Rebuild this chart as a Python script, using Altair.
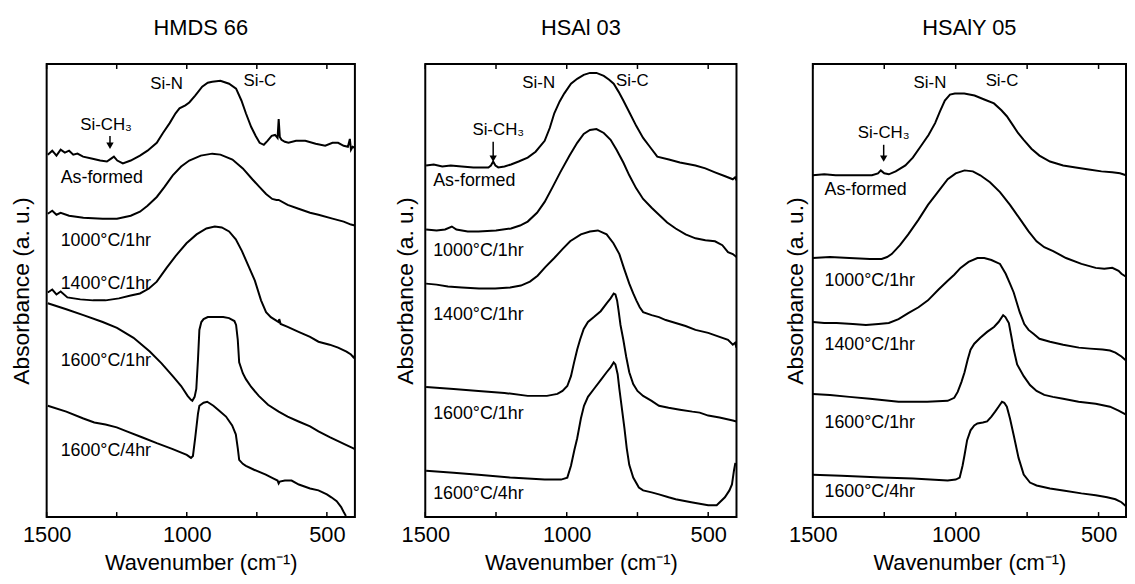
import altair as alt
import pandas as pd

FONT = "Liberation Sans"

panel_titles = ["HMDS 66", "HSAl 03", "HSAlY 05"]
curve_names = ["As-formed", "1000°C/1hr", "1400°C/1hr", "1600°C/1hr", "1600°C/4hr"]
x_tick_labels = [1500, 1000, 500]
x_minor_ticks = [1500, 1250, 1000, 750, 500]
peak_names = ["Si-N", "Si-C", "Si-CH₃"]

# ---------------- HMDS 66 ----------------
hmds_asformed_wn = [1496, 1480, 1465, 1450, 1435, 1420, 1405, 1390, 1370, 1340, 1309, 1285, 1270, 1260, 1248, 1228, 1200, 1167, 1140, 1107, 1085, 1061, 1040, 1026, 1005, 991, 970, 945, 925, 909, 880, 849, 824, 805, 789, 770, 754, 740, 725, 712, 697, 685, 676, 672, 668, 662, 650, 637, 610, 577, 540, 506, 480, 460, 440, 425, 418, 414, 408, 400]
hmds_asformed_ab = [368, 372, 367, 373, 370, 372, 368, 369, 366, 364, 362, 361, 364, 366, 362, 359, 362, 367, 372, 380, 390, 400, 410, 415, 418, 421, 428, 437, 441, 442, 443, 440, 435, 423, 410, 396, 387, 380, 378, 382, 387, 388, 385, 404, 386, 383, 381, 380, 382, 382, 379, 377, 380, 380, 377, 376, 384, 373, 376, 375]
hmds_1000_wn = [1496, 1480, 1465, 1450, 1420, 1369, 1300, 1249, 1200, 1167, 1140, 1107, 1080, 1050, 1020, 991, 950, 909, 880, 837, 800, 766, 740, 717, 695, 680, 672, 640, 601, 560, 530, 480, 440, 414, 400]
hmds_1000_ab = [308, 311, 307, 309, 306, 304, 303, 303, 306, 310, 316, 325, 335, 347, 356, 362, 367, 369, 368, 363, 354, 343, 335, 328, 323, 322, 322, 317, 313, 309, 307, 303, 300, 297, 296]
hmds_1400_wn = [1496, 1480, 1465, 1450, 1426, 1380, 1334, 1290, 1242, 1200, 1167, 1135, 1107, 1072, 1040, 1001, 965, 930, 900, 875, 849, 825, 803, 780, 757, 735, 717, 700, 672, 670, 665, 640, 601, 560, 530, 490, 460, 430, 414, 405, 400]
hmds_1400_ab = [228, 231, 226, 229, 223, 221, 220, 220, 222, 225, 227, 232, 239, 253, 265, 278, 287, 293, 295, 294, 290, 282, 270, 255, 240, 220, 208, 203, 198, 201, 196, 193, 188, 183, 178, 175, 172, 168, 165, 162, 164]
hmds_1600a_wn = [1496, 1430, 1369, 1300, 1249, 1190, 1132, 1090, 1050, 1020, 997, 985, 980, 972, 966, 960, 955, 948, 940, 925, 909, 870, 849, 830, 824, 818, 813, 800, 789, 770, 743, 710, 672, 640, 601, 560, 530, 490, 460, 430, 407, 400]
hmds_1600a_ab = [217, 211, 205, 198, 192, 182, 168, 156, 143, 133, 123, 119, 118, 122, 130, 160, 190, 198, 201, 203, 203, 203, 202, 199, 195, 180, 157, 146, 140, 132, 123, 114, 107, 102, 97, 92, 87, 81, 77, 73, 70, 69]
hmds_1600b_wn = [1496, 1430, 1369, 1330, 1290, 1250, 1214, 1160, 1107, 1050, 1000, 985, 978, 970, 960, 955, 940, 927, 905, 884, 860, 838, 825, 818, 813, 800, 789, 760, 718, 690, 676, 672, 668, 650, 626, 600, 560, 530, 500, 484, 465, 449, 440, 432]
hmds_1600b_ab = [113, 107, 100, 96, 94, 91, 87, 81, 75, 69, 63, 60, 62, 80, 105, 113, 116, 117, 113, 108, 102, 93, 84, 70, 58, 54, 52, 48, 43, 39, 37, 34, 36, 37, 37, 33, 29, 27, 23, 20, 16, 10, 5, 1]

# ---------------- HSAl 03 ----------------
hsal_asformed_wn = [1497, 1470, 1440, 1410, 1371, 1330, 1300, 1277, 1268, 1260, 1252, 1242, 1220, 1197, 1170, 1138, 1110, 1078, 1060, 1044, 1025, 1009, 985, 963, 940, 918, 895, 869, 850, 834, 817, 800, 777, 754, 730, 709, 680, 639, 600, 545, 510, 476, 440, 413, 405, 400]
hsal_asformed_ab = [357, 358, 356, 357, 356, 355, 355, 355, 357, 361, 357, 355, 356, 358, 361, 365, 371, 382, 395, 410, 422, 430, 440, 445, 449, 451, 451, 448, 444, 440, 432, 423, 410, 397, 385, 377, 366, 363, 360, 357, 354, 350, 346, 343, 345, 342]
hsal_1000_wn = [1497, 1460, 1430, 1406, 1390, 1350, 1312, 1250, 1197, 1165, 1138, 1105, 1078, 1050, 1023, 990, 963, 940, 918, 895, 869, 845, 824, 800, 779, 755, 730, 700, 674, 645, 615, 580, 545, 510, 476, 450, 430, 413, 400]
hsal_1000_ab = [292, 291, 292, 295, 292, 290, 290, 291, 293, 296, 300, 309, 320, 335, 350, 367, 380, 389, 393, 394, 390, 383, 373, 360, 347, 334, 323, 314, 307, 299, 293, 287, 283, 281, 280, 276, 269, 267, 264]
hsal_1400_wn = [1497, 1460, 1420, 1371, 1310, 1253, 1200, 1162, 1130, 1103, 1075, 1044, 1015, 988, 950, 918, 890, 859, 835, 814, 797, 779, 765, 754, 742, 730, 700, 674, 650, 615, 580, 545, 500, 470, 430, 413, 405, 400]
hsal_1400_ab = [237, 236, 234, 233, 232, 232, 233, 235, 239, 245, 254, 263, 272, 280, 287, 290, 291, 287, 278, 267, 252, 237, 227, 220, 213, 208, 205, 203, 200, 197, 194, 190, 187, 184, 180, 175, 177, 172]
hsal_1600a_wn = [1497, 1400, 1312, 1220, 1138, 1070, 1033, 1015, 998, 985, 974, 963, 953, 940, 925, 904, 880, 859, 845, 834, 828, 822, 817, 810, 800, 790, 779, 765, 750, 730, 700, 674, 640, 600, 556, 530, 500, 460, 413, 400]
hsal_1600a_ab = [132, 130, 128, 126, 123, 123, 125, 128, 133, 143, 157, 170, 180, 191, 198, 203, 209, 217, 222, 227, 226, 220, 210, 195, 180, 163, 147, 135, 128, 123, 118, 113, 111, 109, 107, 106, 103, 101, 98, 97]
hsal_1600b_wn = [1497, 1400, 1312, 1200, 1078, 1020, 998, 985, 973, 963, 950, 939, 925, 904, 880, 859, 845, 834, 828, 820, 814, 805, 796, 788, 779, 765, 745, 730, 700, 674, 640, 615, 560, 500, 470, 441, 425, 416, 409, 404]
hsal_1600b_ab = [47, 45, 43, 40, 38, 38, 40, 52, 68, 80, 100, 113, 122, 130, 139, 147, 152, 157, 155, 145, 130, 110, 90, 70, 53, 40, 30, 27, 25, 23, 20, 18, 15, 12, 12, 20, 27, 33, 47, 55]

# ---------------- HSAlY 05 ----------------
hsaly_asformed_wn = [1500, 1460, 1420, 1372, 1330, 1293, 1272, 1262, 1250, 1234, 1210, 1176, 1150, 1121, 1095, 1072, 1055, 1038, 1020, 1003, 970, 934, 900, 866, 840, 821, 800, 782, 762, 735, 707, 670, 624, 580, 534, 490, 452, 425, 404]
hsaly_asformed_ab = [347, 348, 347, 347, 347, 347, 349, 352, 349, 348, 351, 357, 365, 377, 388, 400, 412, 423, 429, 430, 430, 428, 424, 420, 413, 407, 398, 390, 383, 374, 367, 361, 357, 355, 353, 351, 350, 349, 347]
hsaly_1000_wn = [1500, 1440, 1372, 1300, 1259, 1240, 1224, 1195, 1166, 1130, 1097, 1060, 1028, 1000, 969, 940, 914, 880, 845, 810, 776, 745, 717, 690, 659, 614, 560, 510, 480, 452, 430, 420, 404]
hsaly_1000_ab = [263, 264, 263, 262, 262, 264, 267, 276, 287, 302, 317, 331, 343, 349, 352, 351, 347, 340, 330, 317, 303, 290, 280, 274, 270, 263, 257, 253, 252, 253, 250, 247, 244]
hsaly_1400_wn = [1500, 1460, 1417, 1360, 1314, 1270, 1234, 1200, 1166, 1130, 1097, 1060, 1028, 1005, 983, 955, 924, 900, 875, 845, 825, 810, 797, 776, 760, 745, 728, 707, 670, 624, 569, 530, 486, 460, 441, 420, 404]
hsaly_1400_ab = [198, 197, 197, 196, 195, 196, 197, 201, 207, 213, 220, 231, 240, 246, 253, 259, 263, 263, 261, 257, 247, 237, 228, 208, 196, 190, 186, 181, 178, 175, 172, 171, 170, 169, 167, 163, 159]
hsaly_1600a_wn = [1500, 1440, 1372, 1300, 1200, 1100, 1028, 1005, 993, 980, 969, 958, 948, 935, 914, 890, 866, 850, 834, 826, 814, 805, 797, 785, 762, 740, 717, 690, 660, 624, 570, 510, 460, 430, 404]
hsaly_1600a_ab = [125, 124, 122, 120, 117, 117, 118, 121, 127, 137, 147, 160, 170, 176, 182, 188, 193, 198, 205, 203, 197, 183, 170, 155, 143, 134, 128, 124, 122, 120, 117, 115, 112, 108, 104]
hsaly_1600b_wn = [1500, 1400, 1259, 1150, 1028, 1000, 986, 976, 969, 960, 948, 935, 924, 905, 890, 875, 862, 850, 838, 830, 821, 810, 797, 780, 762, 740, 717, 670, 624, 560, 510, 470, 441, 420, 404]
hsaly_1600b_ab = [43, 42, 40, 39, 37, 38, 40, 52, 63, 78, 88, 93, 95, 96, 97, 102, 107, 112, 117, 116, 112, 100, 83, 60, 43, 35, 32, 29, 27, 24, 22, 20, 18, 15, 11]

# curve-label anchors (wavenumber, absorbance) and peak annotations per panel
hmds_label_wn, hmds_label_ab = 1450, [344, 280, 237, 158, 67]
hsal_label_wn, hsal_label_ab = 1472, [341, 270, 205, 105, 23]
hsaly_label_wn, hsaly_label_ab = 1459, [332, 240, 175, 95, 25]
hmds_peak_wn, hmds_peak_ab = [1072, 739, 1288], [440, 443, 398]
hsal_peak_wn, hsal_peak_ab = [1099, 768, 1242], [441, 443, 393]
hsaly_peak_wn, hsaly_peak_ab = [1090, 838, 1252], [441, 443, 390]
hmds_arrow = (1274, 387, 373)
hsal_arrow = (1260, 381, 360)
hsaly_arrow = (1252, 378, 360)

PLOT_H = 457


def make_panel(title, curves, lab_wn, lab_ab, peak_wn, peak_ab, arrow, width, ytitle_pad, xmin):
    rows = []
    for name, (wn, ab) in zip(curve_names, curves):
        rows += [{"wn": w, "ab": a, "curve": name} for w, a in zip(wn, ab)]
    df = pd.DataFrame(rows)
    xscale = alt.Scale(domain=[xmin, 1500], reverse=True, nice=False, zero=False)
    yscale = alt.Scale(domain=[0, 460], nice=False, zero=False)

    lines = alt.Chart(df).mark_line(color="black", strokeWidth=2, clip=True).encode(
        x=alt.X("wn:Q", scale=xscale, axis=alt.Axis(
            values=x_tick_labels, format="d", ticks=False, grid=False, domain=False,
            labelFontSize=22, labelFont=FONT, labelColor="black", labelFlush=False,
            labelPadding=8, title="Wavenumber (cm⁻¹)", titleFontSize=22,
            titleFont=FONT, titleFontWeight="normal", titleColor="black", titlePadding=7)),
        y=alt.Y("ab:Q", scale=yscale, axis=alt.Axis(
            labels=False, ticks=False, grid=False, domain=False,
            title="Absorbance (a. u.)", titleFontSize=23, titleFont=FONT,
            titleFontWeight="normal", titleColor="black", titlePadding=ytitle_pad)),
        detail="curve:N",
    )

    tl = 5
    tick_df = pd.DataFrame({
        "wn": x_minor_ticks + x_minor_ticks,
        "ab": [0] * len(x_minor_ticks) + [460 - tl] * len(x_minor_ticks),
        "ab2": [tl] * len(x_minor_ticks) + [460] * len(x_minor_ticks),
    })
    ticks = alt.Chart(tick_df).mark_rule(color="black", strokeWidth=1.5).encode(
        x=alt.X("wn:Q", scale=xscale), y=alt.Y("ab:Q", scale=yscale), y2="ab2:Q")

    lab_df = pd.DataFrame({"wn": [lab_wn] * len(curve_names), "ab": lab_ab, "label": curve_names})
    labels = alt.Chart(lab_df).mark_text(align="left", baseline="middle", font=FONT,
                                         fontSize=18, color="black").encode(
        x=alt.X("wn:Q", scale=xscale), y=alt.Y("ab:Q", scale=yscale), text="label:N")

    peak_df = pd.DataFrame({"wn": peak_wn, "ab": peak_ab, "label": peak_names})
    peaks = alt.Chart(peak_df).mark_text(align="center", baseline="middle", font=FONT,
                                         fontSize=17, color="black").encode(
        x=alt.X("wn:Q", scale=xscale), y=alt.Y("ab:Q", scale=yscale), text="label:N")

    arr_df = pd.DataFrame({"wn": [arrow[0]], "ab": [arrow[1]], "ab2": [arrow[2] + 5]})
    arr_rule = alt.Chart(arr_df).mark_rule(color="black", strokeWidth=1.5).encode(
        x=alt.X("wn:Q", scale=xscale), y=alt.Y("ab:Q", scale=yscale), y2="ab2:Q")
    head_df = pd.DataFrame({"wn": [arrow[0]], "ab": [arrow[2] + 4]})
    arr_head = alt.Chart(head_df).mark_point(shape="triangle-down", filled=True, size=55,
                                             color="black", opacity=1).encode(
        x=alt.X("wn:Q", scale=xscale), y=alt.Y("ab:Q", scale=yscale))

    return alt.layer(lines, ticks, labels, peaks, arr_rule, arr_head).properties(
        width=width, height=PLOT_H,
        title=alt.TitleParams(panel_titles[title], font=FONT, fontSize=22,
                              fontWeight="normal", color="black", anchor="middle", offset=24),
    )


p1 = make_panel(0, [(hmds_asformed_wn, hmds_asformed_ab), (hmds_1000_wn, hmds_1000_ab),
                    (hmds_1400_wn, hmds_1400_ab), (hmds_1600a_wn, hmds_1600a_ab),
                    (hmds_1600b_wn, hmds_1600b_ab)],
                hmds_label_wn, hmds_label_ab, hmds_peak_wn, hmds_peak_ab, hmds_arrow,
                311, 13, 400)
p2 = make_panel(1, [(hsal_asformed_wn, hsal_asformed_ab), (hsal_1000_wn, hsal_1000_ab),
                    (hsal_1400_wn, hsal_1400_ab), (hsal_1600a_wn, hsal_1600a_ab),
                    (hsal_1600b_wn, hsal_1600b_ab)],
                hsal_label_wn, hsal_label_ab, hsal_peak_wn, hsal_peak_ab, hsal_arrow,
                314, 8, 400)
p3 = make_panel(2, [(hsaly_asformed_wn, hsaly_asformed_ab), (hsaly_1000_wn, hsaly_1000_ab),
                    (hsaly_1400_wn, hsaly_1400_ab), (hsaly_1600a_wn, hsaly_1600a_ab),
                    (hsaly_1600b_wn, hsaly_1600b_ab)],
                hsaly_label_wn, hsaly_label_ab, hsaly_peak_wn, hsaly_peak_ab, hsaly_arrow,
                316, 5, 404)

chart = alt.hconcat(alt.hconcat(p1, p2, spacing=38), p3, spacing=47).properties(
    padding={"left": 2, "top": 5, "right": 0, "bottom": 0}
).configure_view(stroke="black", strokeWidth=2)

chart.save("out.html", embed_options={"renderer": "svg", "actions": False})
